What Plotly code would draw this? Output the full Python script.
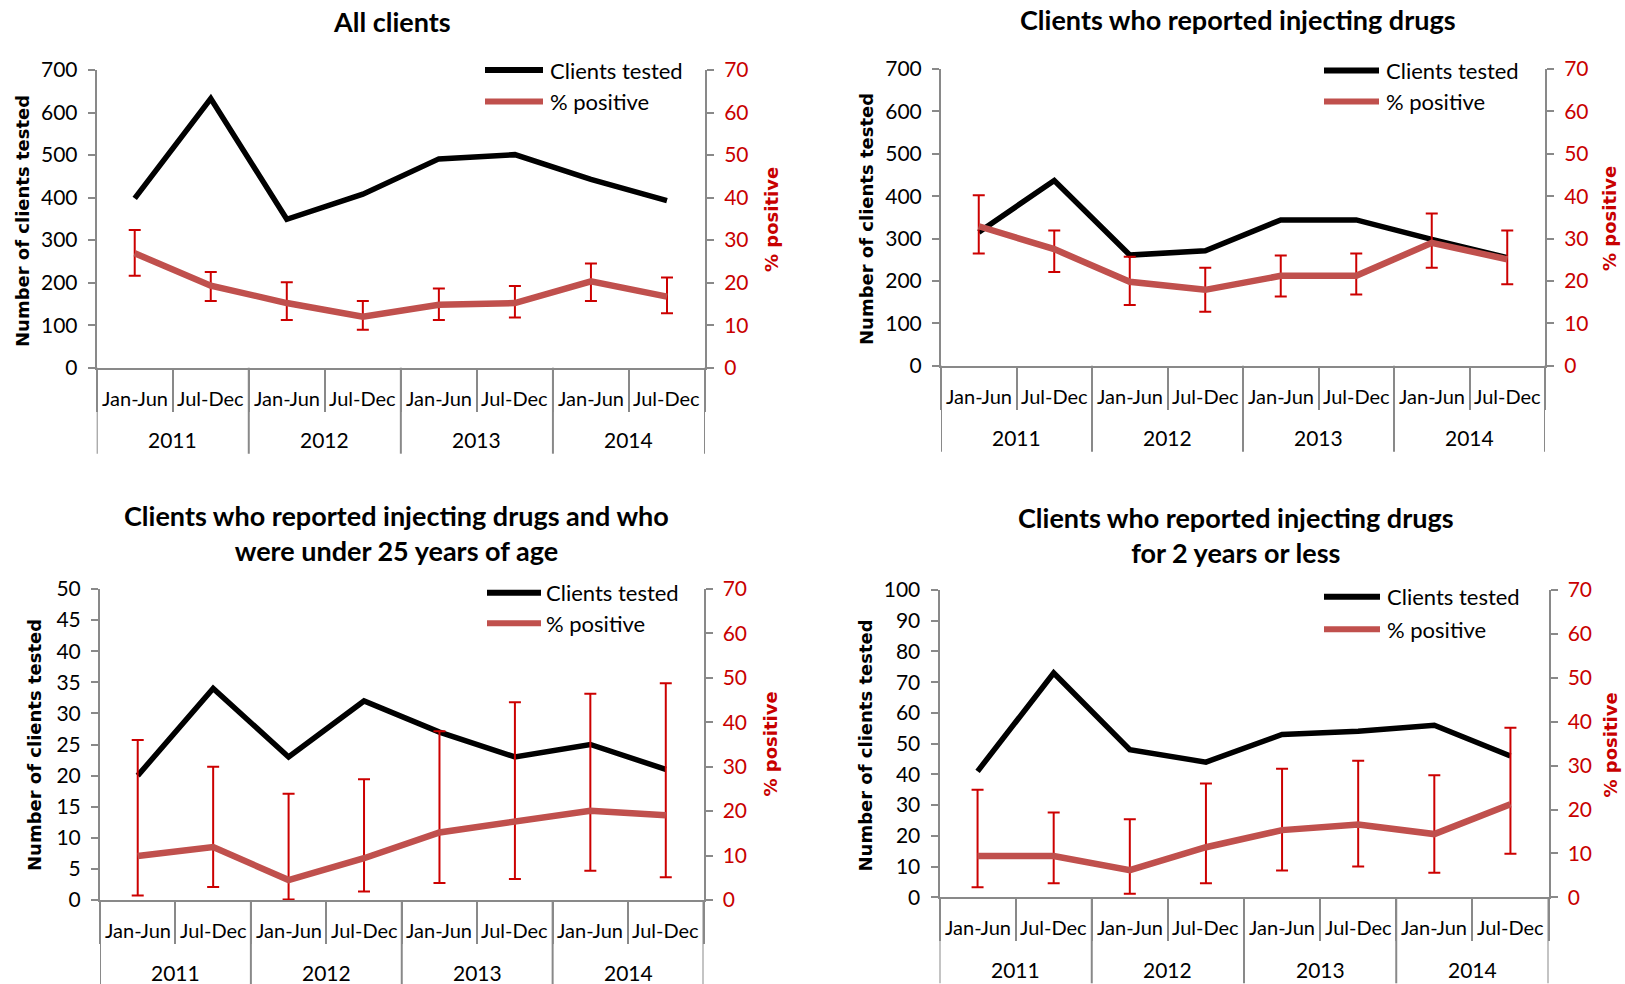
import plotly.graph_objects as go

W, H = 1625, 984

halves = ["Jan-Jun", "Jul-Dec"]
years = ["2011", "2012", "2013", "2014"]
periods = [f"{h} {y}" for y in years for h in halves]

# All clients
all_tested = [398, 633, 349, 408, 491, 501, 443, 393]
all_pos = [26.9, 19.3, 15.2, 12.0, 14.8, 15.2, 20.3, 16.7]
all_lo = [21.6, 15.7, 11.2, 8.9, 11.2, 11.8, 15.7, 12.8]
all_hi = [32.4, 22.5, 20.1, 15.7, 18.6, 19.2, 24.5, 21.2]

# Clients who reported injecting drugs
pwid_tested = [315, 437, 261, 271, 344, 344, 298, 255]
pwid_pos = [32.9, 27.5, 19.8, 17.9, 21.2, 21.2, 29.0, 25.1]
pwid_lo = [26.5, 22.1, 14.3, 12.7, 16.3, 16.8, 23.1, 19.2]
pwid_hi = [40.2, 31.9, 25.7, 23.1, 26.0, 26.5, 35.9, 31.9]

# Injecting clients under 25 years of age
young_tested = [20, 34, 23, 32, 27, 23, 25, 21]
young_pos = [9.9, 11.9, 4.5, 9.4, 15.2, 17.5, 20.1, 19.1]
young_lo = [1.0, 2.9, 0.1, 1.9, 3.8, 4.7, 6.6, 5.1]
young_hi = [36.0, 30.0, 23.9, 27.2, 38.0, 44.5, 46.4, 48.8]

# Injecting for 2 years or less
new_tested = [41, 73, 48, 44, 53, 54, 56, 46]
new_pos = [9.4, 9.4, 6.2, 11.4, 15.3, 16.6, 14.4, 21.2]
new_lo = [2.3, 3.2, 0.8, 3.2, 6.1, 7.0, 5.6, 9.9]
new_hi = [24.5, 19.3, 17.8, 25.9, 29.3, 31.1, 27.8, 38.6]

GRAY = "#898989"
BLACK = "#000000"
RED_LINE = "#C0504D"
RED_ERR = "#CC0000"
RED_TXT = "#C80000"
FONT = "Lato"
TITLE_FONT = "DejaVu Sans"


def px(x):
    return x / W


def py(y):
    return 1 - y / H


# Pixel frame of each panel: plot-area box, title, legend and axis-title placement
panels = [
    dict(title="All clients", tested=all_tested, pos=all_pos, lo=all_lo, hi=all_hi,
         ymax=700, dtick=100, box=(96.7, 705, 70, 367.7), title_xy=(392, 21.5),
         leg=(485, 543, 548, 70, 101.5), ltitle=(22, 221), rtitle=(771, 220)),
    dict(title="Clients who reported injecting drugs", tested=pwid_tested, pos=pwid_pos,
         lo=pwid_lo, hi=pwid_hi, ymax=700, dtick=100, box=(941, 1545, 69, 365.7),
         title_xy=(1238, 20), leg=(1324, 1379, 1384, 70.5, 101.5),
         ltitle=(867, 219), rtitle=(1610, 219)),
    dict(title="Clients who reported injecting drugs and who<br>were under 25 years of age",
         tested=young_tested, pos=young_pos, lo=young_lo, hi=young_hi,
         ymax=50, dtick=5, box=(100, 703.5, 589, 900), title_xy=(396, 532.5),
         leg=(487, 541, 544, 592.7, 623.3), ltitle=(34, 745), rtitle=(769.5, 744)),
    dict(title="Clients who reported injecting drugs<br>for 2 years or less",
         tested=new_tested, pos=new_pos, lo=new_lo, hi=new_hi,
         ymax=100, dtick=10, box=(939.5, 1548.5, 590, 897.3), title_xy=(1236, 535),
         leg=(1324, 1380, 1385, 596.7, 629.3), ltitle=(865, 745.5), rtitle=(1610, 745.5)),
]


def axkey(letter, n):
    return f"{letter}axis" if n == 1 else f"{letter}axis{n}"


def ref(letter, n):
    return letter if n == 1 else f"{letter}{n}"


fig = go.Figure()
layout = dict(
    width=W, height=H, margin=dict(l=0, r=0, t=0, b=0, pad=0, autoexpand=False),
    paper_bgcolor="white", plot_bgcolor="white", showlegend=False,
    font=dict(family=FONT, size=20, color=BLACK),
)
annotations = []
shapes = []

for k, p in enumerate(panels):
    xn, yl, yr = k + 1, 2 * k + 1, 2 * k + 2
    x0, x1, y0, y1 = p["box"]

    fig.add_trace(go.Scatter(
        x=periods, y=p["tested"], mode="lines", name="Clients tested",
        line=dict(color=BLACK, width=5.5),
        xaxis=ref("x", xn), yaxis=ref("y", yl),
    ))
    fig.add_trace(go.Scatter(
        x=periods, y=p["pos"], mode="lines", name="% positive",
        line=dict(color=RED_LINE, width=6.5),
        error_y=dict(type="data", symmetric=False,
                     array=[h - v for h, v in zip(p["hi"], p["pos"])],
                     arrayminus=[v - l for v, l in zip(p["pos"], p["lo"])],
                     color=RED_ERR, thickness=2, width=6),
        xaxis=ref("x", xn), yaxis=ref("y", yr),
    ))

    layout[axkey("x", xn)] = dict(
        type="category", categoryorder="array", categoryarray=periods,
        range=[-0.5, len(periods) - 0.5], domain=[px(x0), px(x1)],
        anchor=ref("y", yl), showline=True, linecolor=GRAY, linewidth=2,
        ticks="outside", tickson="boundaries", ticklen=42, tickcolor=GRAY, tickwidth=2,
        showticklabels=False, showgrid=False, zeroline=False, fixedrange=True,
        automargin=False,
    )
    layout[axkey("y", yl)] = dict(
        range=[0, p["ymax"]], dtick=p["dtick"], domain=[py(y1), py(y0)],
        anchor=ref("x", xn), showline=True, linecolor=GRAY, linewidth=2,
        ticks="outside", ticklen=7, tickcolor=GRAY, tickwidth=2,
        tickfont=dict(family=FONT, size=21, color=BLACK), ticklabelstandoff=6,
        showgrid=False, zeroline=False, fixedrange=True, automargin=False,
    )
    layout[axkey("y", yr)] = dict(
        range=[0, 70], dtick=10, overlaying=ref("y", yl), side="right",
        anchor=ref("x", xn), showline=True, linecolor=GRAY, linewidth=2,
        ticks="outside", ticklen=7, tickcolor=GRAY, tickwidth=2,
        tickfont=dict(family=FONT, size=21, color=RED_TXT), ticklabelstandoff=6,
        showgrid=False, zeroline=False, fixedrange=True, automargin=False,
    )

    # Two-level category labels under the x axis
    for i, per in enumerate(periods):
        annotations.append(dict(
            x=i, y=py(y1 + 30), xref=ref("x", xn), yref="paper",
            text=per.split(" ")[0], showarrow=False, xanchor="center", yanchor="middle",
            font=dict(family=FONT, size=20, color=BLACK),
        ))
    for j, yr_lbl in enumerate(years):
        annotations.append(dict(
            x=2 * j + 0.5, y=py(y1 + 72), xref=ref("x", xn), yref="paper",
            text=yr_lbl, showarrow=False, xanchor="center", yanchor="middle",
            font=dict(family=FONT, size=21, color=BLACK),
        ))
    # Year group dividers
    for j in range(len(years) + 1):
        shapes.append(dict(
            type="line", xref=ref("x", xn), yref="paper",
            x0=2 * j - 0.5, x1=2 * j - 0.5, y0=py(y1), y1=py(min(y1 + 86, H + 2)),
            line=dict(color=GRAY, width=2),
        ))

    # Panel title
    tx, ty = p["title_xy"]
    annotations.append(dict(
        x=px(tx), y=py(ty), xref="paper", yref="paper", text=f"<b>{p['title']}</b>",
        showarrow=False, xanchor="center", yanchor="middle",
        font=dict(family=FONT, size=27, color=BLACK),
    ))

    # Axis titles
    lx, ly = p["ltitle"]
    annotations.append(dict(
        x=px(lx), y=py(ly), xref="paper", yref="paper",
        text="<b>Number of clients tested</b>", textangle=-90, showarrow=False,
        xanchor="center", yanchor="middle",
        font=dict(family=TITLE_FONT, size=18, color=BLACK),
    ))
    rx, ry = p["rtitle"]
    annotations.append(dict(
        x=px(rx), y=py(ry), xref="paper", yref="paper",
        text="<b>% positive</b>", textangle=-90, showarrow=False,
        xanchor="center", yanchor="middle",
        font=dict(family=TITLE_FONT, size=18, color=RED_TXT),
    ))

    # Legend keys
    lx0, lx1, ltx, lya, lyb = p["leg"]
    for name, color, yy in (("Clients tested", BLACK, lya), ("% positive", RED_LINE, lyb)):
        shapes.append(dict(
            type="line", xref="paper", yref="paper",
            x0=px(lx0), x1=px(lx1), y0=py(yy), y1=py(yy),
            line=dict(color=color, width=6),
        ))
        annotations.append(dict(
            x=px(ltx), y=py(yy), xref="paper", yref="paper", text=name,
            showarrow=False, xanchor="left", yanchor="middle",
            font=dict(family=FONT, size=22, color=BLACK),
        ))

layout["annotations"] = annotations
layout["shapes"] = shapes
fig.update_layout(**layout)

fig.write_html("out.html")
